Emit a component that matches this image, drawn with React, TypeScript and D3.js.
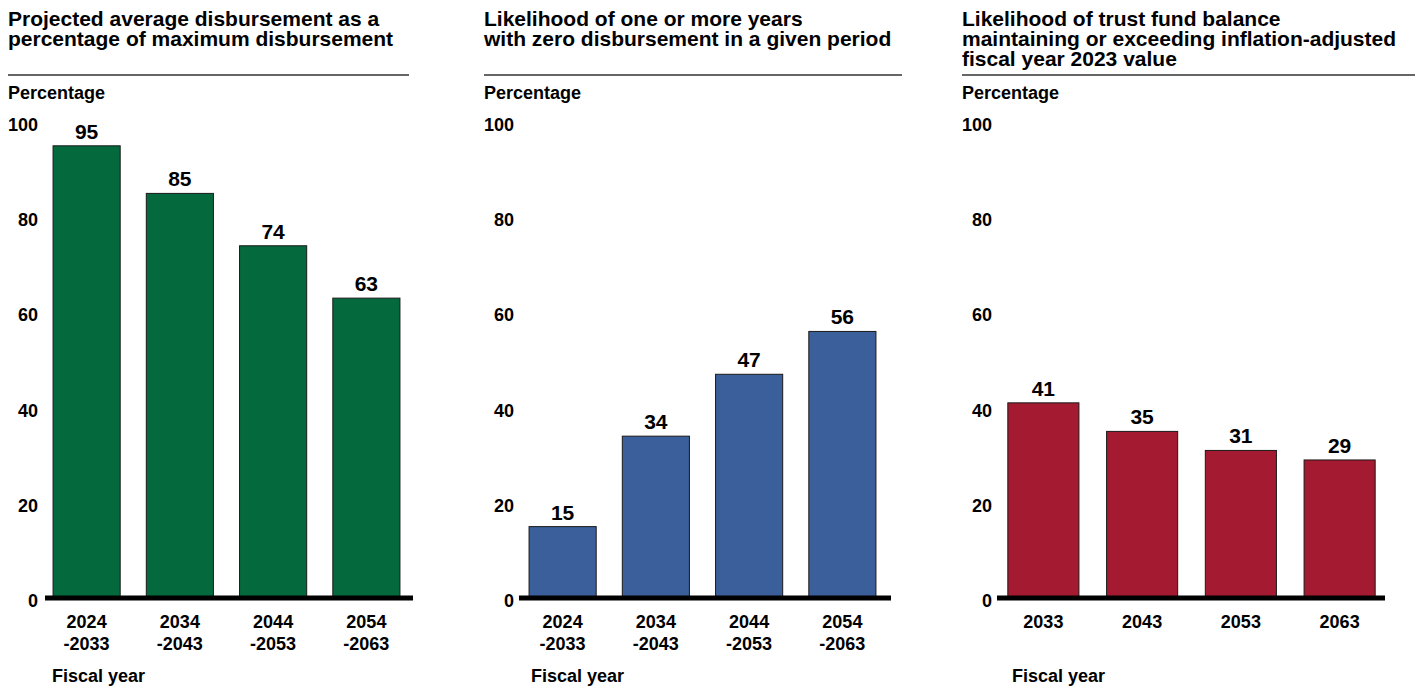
import React from "react";
import * as d3 from "d3";

const periodCategories = ["2024-2033", "2034-2043", "2044-2053", "2054-2063"];
const yearCategories = ["2033", "2043", "2053", "2063"];
const disbursementValues = [95, 85, 74, 63];
const zeroDisbursementValues = [15, 34, 47, 56];
const balanceValues = [41, 35, 31, 29];
const yTicks = [0, 20, 40, 60, 80, 100];

const title1 = ["Projected average disbursement as a", "percentage of maximum disbursement"];
const title2 = ["Likelihood of one or more years", "with zero disbursement in a given period"];
const title3 = ["Likelihood of trust fund balance", "maintaining or exceeding inflation-adjusted", "fiscal year 2023 value"];

const FONT = "Liberation Sans, Arial, Helvetica, sans-serif";

type Panel = {
  title: string[];
  categories: string[];
  values: number[];
  color: string;
  left: number;
  ruleEnd: number;
  tickRight: number;
  axisStart: number;
  axisEnd: number;
  fiscalX: number;
  range: [number, number];
};

const panels: Panel[] = [
  { title: title1, categories: periodCategories, values: disbursementValues, color: "#046a3d",
    left: 8, ruleEnd: 409, tickRight: 38, axisStart: 45, axisEnd: 413, fiscalX: 52, range: [40, 413] },
  { title: title2, categories: periodCategories, values: zeroDisbursementValues, color: "#3a5f9a",
    left: 484, ruleEnd: 902, tickRight: 514, axisStart: 519, axisEnd: 891, fiscalX: 531, range: [516, 889] },
  { title: title3, categories: yearCategories, values: balanceValues, color: "#a41a31",
    left: 962, ruleEnd: 1415, tickRight: 992, axisStart: 997, axisEnd: 1385, fiscalX: 1012, range: [994, 1389] },
];

const y = d3.scaleLinear().domain([0, 100]).range([598, 122]);

function PanelView({ p }: { p: Panel }) {
  const x = d3.scaleBand<string>().domain(p.categories).range(p.range).paddingInner(0.28).paddingOuter(0.14);
  return (
    <g>
      {p.title.map((t, i) => (
        <text key={i} x={p.left} y={26 + i * 19.8} fontSize={21} fontWeight="bold" fill="#000">{t}</text>
      ))}
      <line x1={p.left} x2={p.ruleEnd} y1={75} y2={75} stroke="#333" strokeWidth={1.6} />
      <text x={p.left} y={99} fontSize={18} fontWeight="bold">Percentage</text>
      {yTicks.map((t) => (
        <text key={t} x={p.tickRight} y={y(t) + 3} textAnchor="end" dominantBaseline="central" fontSize={18} fontWeight="bold">{t}</text>
      ))}
      {p.categories.map((c, i) => {
        const v = p.values[i];
        const bx = x(c)!;
        return (
          <g key={c}>
            <rect x={bx} y={y(v)} width={x.bandwidth()} height={y(0) - y(v)} fill={p.color} stroke="#1a1a1a" strokeWidth={1} />
            <text x={bx + x.bandwidth() / 2} y={y(v) - 7} textAnchor="middle" fontSize={21} fontWeight="bold">{v}</text>
          </g>
        );
      })}
      <line x1={p.axisStart} x2={p.axisEnd} y1={y(0)} y2={y(0)} stroke="#000" strokeWidth={5} />
      {p.categories.map((c) => {
        const parts = c.includes("-") ? [c.split("-")[0], "-" + c.split("-")[1]] : [c];
        const cx = x(c)! + x.bandwidth() / 2;
        return (
          <text key={c} textAnchor="middle" fontSize={18} fontWeight="bold">
            {parts.map((s, i) => (
              <tspan key={i} x={cx} y={628 + i * 22}>{s}</tspan>
            ))}
          </text>
        );
      })}
      <text x={p.fiscalX} y={682} fontSize={18} fontWeight="bold">Fiscal year</text>
    </g>
  );
}

export default function App() {
  return (
    <svg width={1420} height={687} style={{ position: "absolute", left: 0, top: 0, fontFamily: FONT, background: "#fff" }}>
      <rect width={1420} height={687} fill="#fff" />
      {panels.map((p, i) => (
        <PanelView key={i} p={p} />
      ))}
    </svg>
  );
}
